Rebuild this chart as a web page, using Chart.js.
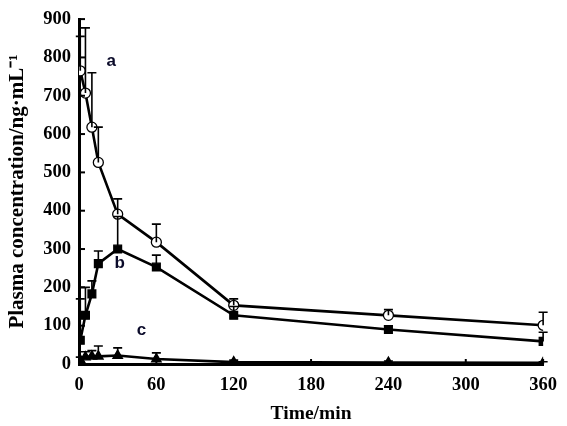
<!DOCTYPE html>
<html>
<head>
<meta charset="utf-8">
<script src="https://cdn.jsdelivr.net/npm/chart.js@4/dist/chart.umd.min.js"></script>
<style>
  html, body { margin: 0; padding: 0; background: #fff; }
  #wrap { width: 567px; height: 426px; }
</style>
</head>
<body>
<div id="wrap"><canvas id="plasmaChart" width="567" height="426"></canvas></div>
<script>
// Sampling times (min)
const times = [1, 5, 10, 15, 30, 60, 120, 240, 360];

// Series a (open circles)
const seriesA = [765, 707, 618, 526, 391, 318, 153, 127, 101];
const seriesAUpper = [855, 877, 760, 618, 431, 365, 170, 142, 135];

// Series b (filled squares)
const seriesB = [62, 127, 183, 262, 300, 253, 127, 90, 59];
const seriesBUpper = [170, 200, 217, 295, 385, 284, 150, 100, 83];

// Series c (filled triangles)
const seriesC = [10, 18, 20, 20, 22, 13, 5, 4, 3];
const seriesCUpper = [18, 32, 35, 47, 42, 29, 10, 8, 6];

// Tick labels
const xTicks = [0, 60, 120, 180, 240, 300, 360];
const yTicks = [0, 100, 200, 300, 400, 500, 600, 700, 800, 900];

// Curve labels and their anchor (time, concentration)
const curveLabels = ["a", "b", "c"];
const curveLabelTimes = [25, 31.5, 48.5];
const curveLabelValues = [790, 262, 88];

const serifBold = { family: "'Liberation Serif', 'Times New Roman', serif", weight: "bold" };

/**
 * Helper: build line dataset
 */
function makeDataset(label, values, upper, style, fill) {
  return {
    label,
    data: times.map((t, i) => ({ x: t, y: values[i] })),
    upper,
    borderColor: "#000",
    borderWidth: 2.6,
    tension: 0,
    pointStyle: style,
    pointRadius: style === "circle" ? 5 : 5.5,
    pointBorderWidth: 1.3,
    pointBorderColor: "#000",
    pointBackgroundColor: fill,
  };
}

/**
 * Plugin: upward error bars
 */
const errorBarPlugin = {
  id: "errorBars",
  afterDatasetsDraw(chart) {
    const { ctx, scales: { x, y } } = chart;
    ctx.save();
    ctx.strokeStyle = "#000";
    ctx.lineWidth = 1.6;
    chart.data.datasets.forEach(ds => {
      ds.data.forEach((p, i) => {
        const px = x.getPixelForValue(p.x);
        const py = y.getPixelForValue(p.y);
        const top = y.getPixelForValue(ds.upper[i]);
        ctx.beginPath();
        ctx.moveTo(px, py);
        ctx.lineTo(px, top);
        ctx.moveTo(px - 4.5, top);
        ctx.lineTo(px + 4.5, top);
        ctx.stroke();
      });
    });
    ctx.restore();
  },
};

/**
 * Plugin: inward tick marks and curve letters
 */
const decorPlugin = {
  id: "decor",
  afterDraw(chart) {
    const { ctx, scales: { x, y } } = chart;
    ctx.save();
    ctx.strokeStyle = "#000";
    ctx.lineWidth = 2;
    xTicks.forEach(t => {
      const px = x.getPixelForValue(t);
      ctx.beginPath();
      ctx.moveTo(px, y.bottom);
      ctx.lineTo(px, y.bottom - 5);
      ctx.stroke();
    });
    yTicks.forEach(v => {
      const py = y.getPixelForValue(v);
      ctx.beginPath();
      ctx.moveTo(x.left, py);
      ctx.lineTo(x.left + 6, py);
      ctx.stroke();
    });
    ctx.fillStyle = "#0b0b2a";
    ctx.font = "bold 17px 'Liberation Sans', Arial, sans-serif";
    ctx.textAlign = "center";
    ctx.textBaseline = "middle";
    curveLabels.forEach((txt, i) => {
      ctx.fillText(txt, x.getPixelForValue(curveLabelTimes[i]), y.getPixelForValue(curveLabelValues[i]));
    });
    ctx.restore();
  },
};

const ctx = document.getElementById("plasmaChart").getContext("2d");
new Chart(ctx, {
  type: "line",
  data: {
    datasets: [
      makeDataset("c", seriesC, seriesCUpper, "triangle", "#000"),
      makeDataset("b", seriesB, seriesBUpper, "rect", "#000"),
      makeDataset("a", seriesA, seriesAUpper, "circle", "#fff"),
    ],
  },
  options: {
    responsive: false,
    animation: false,
    layout: { padding: { top: 16, right: 21, left: 0, bottom: 0 } },
    plugins: { legend: { display: false }, tooltip: { enabled: false } },
    scales: {
      x: {
        type: "linear",
        min: 0,
        max: 360,
        afterBuildTicks: scale => { scale.ticks = xTicks.map(v => ({ value: v })); },
        afterFit: scale => { scale.height = 62; },
        grid: { display: false, drawTicks: false },
        border: { display: true, color: "#000", width: 3 },
        ticks: { color: "#000", padding: 10, font: { ...serifBold, size: 18.5 }, maxRotation: 0 },
        title: {
          display: true,
          text: "Time/min",
          color: "#000",
          font: { ...serifBold, size: 19.5 },
          padding: { top: 1, bottom: 0 },
        },
      },
      y: {
        min: 0,
        max: 900,
        afterBuildTicks: scale => { scale.ticks = yTicks.map(v => ({ value: v })); },
        afterFit: scale => { scale.width = 79; },
        grid: { display: false, drawTicks: false },
        border: { display: true, color: "#000", width: 3 },
        ticks: { color: "#000", padding: 8, font: { ...serifBold, size: 18.5 } },
        title: {
          display: true,
          text: "Plasma concentration/ng·mL⁻¹",
          color: "#000",
          font: { ...serifBold, size: 21 },
          padding: { top: 5, bottom: 5 },
        },
      },
    },
  },
  plugins: [errorBarPlugin, decorPlugin],
});
</script>
</body>
</html>
